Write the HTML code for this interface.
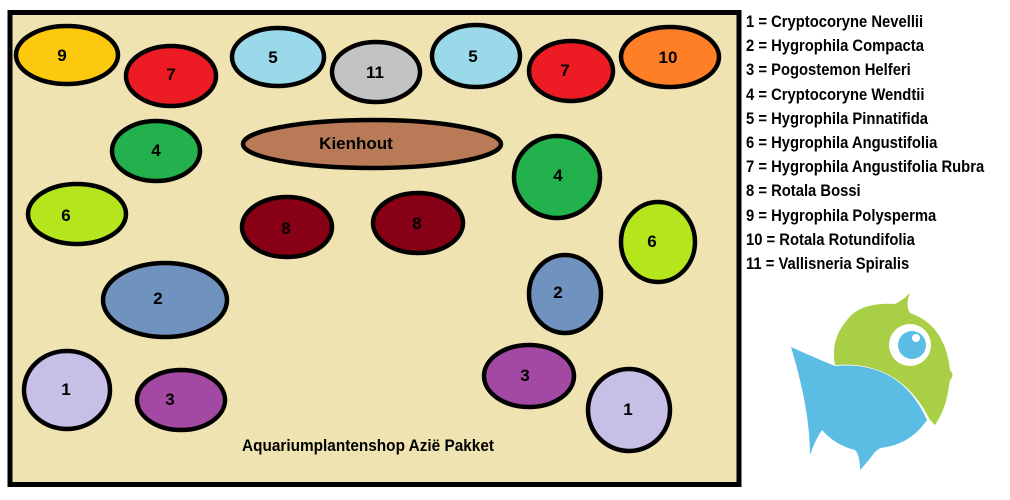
<!DOCTYPE html>
<html><head><meta charset="utf-8"><style>
body{margin:0;width:1010px;height:500px;background:#fff;overflow:hidden;position:relative;font-family:"Liberation Sans",sans-serif}
.leg{position:absolute;left:746px;top:10px;font-size:17px;font-weight:bold;line-height:24.2px;color:#000;white-space:nowrap;transform:scaleX(0.87);transform-origin:0 0}
</style></head><body>
<svg width="1010" height="500" style="position:absolute;left:0;top:0" font-family="Liberation Sans, sans-serif" font-weight="bold">
<rect x="10" y="12.5" width="729" height="472" fill="#efe3b2" stroke="#000" stroke-width="5"/>
<g stroke="#000" stroke-width="4.5">
<ellipse cx="67" cy="55" rx="51" ry="29" fill="#fdc90e"/>
<ellipse cx="171" cy="76" rx="45" ry="30" fill="#ed1c24"/>
<ellipse cx="278" cy="57" rx="46" ry="29" fill="#99d9ea"/>
<ellipse cx="376" cy="72" rx="44" ry="30" fill="#c3c3c3"/>
<ellipse cx="476" cy="56" rx="44" ry="31" fill="#99d9ea"/>
<ellipse cx="571" cy="71" rx="42" ry="30" fill="#ed1c24"/>
<ellipse cx="670" cy="57" rx="49" ry="30" fill="#ff7f27"/>
<ellipse cx="372" cy="144" rx="129" ry="24" fill="#b97a57"/>
<ellipse cx="156" cy="151" rx="44" ry="30" fill="#22b14c"/>
<ellipse cx="77" cy="214" rx="49" ry="30" fill="#b5e61d"/>
<ellipse cx="287" cy="227" rx="45" ry="30" fill="#880015"/>
<ellipse cx="418" cy="223" rx="45" ry="30" fill="#880015"/>
<ellipse cx="557" cy="177" rx="43" ry="41" fill="#22b14c"/>
<ellipse cx="658" cy="242" rx="37" ry="40" fill="#b5e61d"/>
<ellipse cx="165" cy="300" rx="62" ry="37" fill="#7092be"/>
<ellipse cx="565" cy="294" rx="36" ry="39" fill="#7092be"/>
<ellipse cx="67" cy="390" rx="43" ry="39" fill="#c8bfe7"/>
<ellipse cx="181" cy="400" rx="44" ry="30" fill="#a349a4"/>
<ellipse cx="529" cy="376" rx="45" ry="31" fill="#a349a4"/>
<ellipse cx="629" cy="410" rx="41" ry="41" fill="#c8bfe7"/>
</g>
<g font-size="17" text-anchor="middle" fill="#000">
<text x="62" y="61">9</text><text x="171" y="80">7</text><text x="273" y="63">5</text>
<text x="375" y="78">11</text><text x="473" y="62">5</text><text x="565" y="76">7</text>
<text x="668" y="63">10</text><text x="356" y="149">Kienhout</text><text x="156" y="156">4</text>
<text x="66" y="221">6</text><text x="286" y="234">8</text><text x="417" y="229">8</text>
<text x="558" y="181">4</text><text x="652" y="247">6</text><text x="158" y="304">2</text>
<text x="558" y="298">2</text><text x="66" y="395">1</text><text x="170" y="405">3</text>
<text x="525" y="381">3</text><text x="628" y="415">1</text>
<text x="368" y="451" textLength="252" lengthAdjust="spacingAndGlyphs">Aquariumplantenshop Azië Pakket</text>
</g>
<path d="M847 320 Q860 302 895 304 Q903 300 910 293 Q905 305 910 313 Q945 325 950 370 Q955 376 950 380 L948 392 Q945 410 935 425 L930 420 Q900 360 835 365 Q830 340 847 320Z" fill="#a8cf45"/>
<path d="M791 347 Q820 360 835 366 Q900 360 927 420 Q910 445 880 448 L875 452 Q865 465 860 470 Q860 455 855 450 Q835 445 822 430 Q815 440 810 455 Q810 410 791 347Z" fill="#5bbce4"/>
<circle cx="910" cy="345" r="21" fill="#fff"/>
<circle cx="912" cy="345" r="14" fill="#5bbce4"/>
<circle cx="916" cy="338" r="4" fill="#fff"/>
</svg>
<div class="leg">1 = Cryptocoryne Nevellii<br>2 = Hygrophila Compacta<br>3 = Pogostemon Helferi<br>4 = Cryptocoryne Wendtii<br>5 = Hygrophila Pinnatifida<br>6 = Hygrophila Angustifolia<br>7 = Hygrophila Angustifolia Rubra<br>8 = Rotala Bossi<br>9 = Hygrophila Polysperma<br>10 = Rotala Rotundifolia<br>11 = Vallisneria Spiralis</div>
</body></html>
